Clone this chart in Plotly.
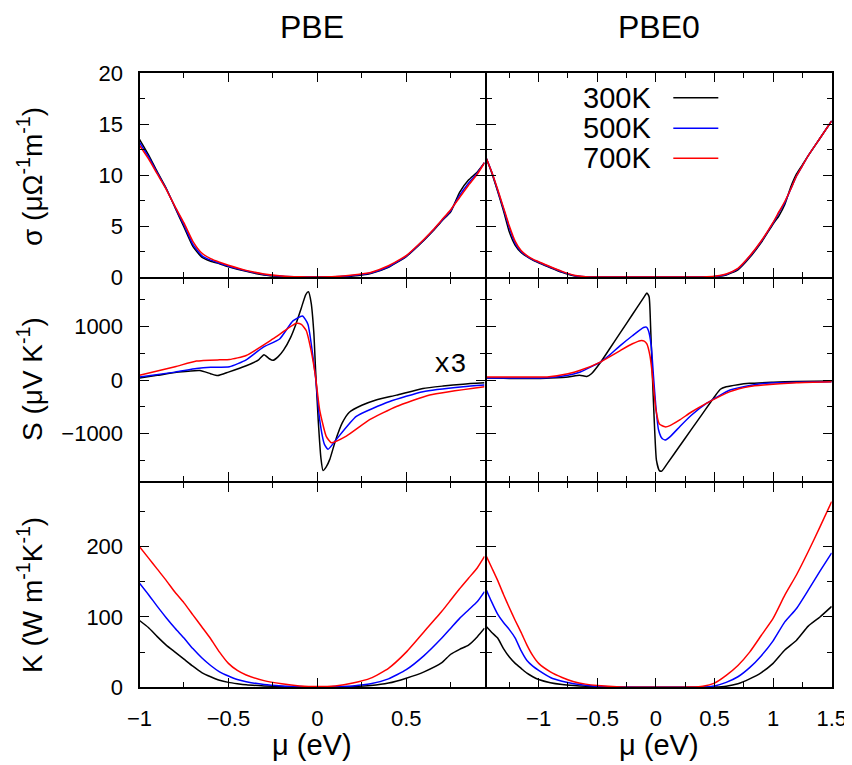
import plotly.graph_objects as go

# ---------------- data ----------------
temps = ["300K", "500K", "700K"]
colors = ["#000000", "#0000ff", "#ff0000"]

# sigma, PBE
x_sig_pbe = [-1.0, -0.95, -0.9, -0.85, -0.8, -0.75, -0.7, -0.65, -0.6, -0.55, -0.5, -0.4, -0.3, -0.2, -0.1,
             0.0, 0.1, 0.2, 0.3, 0.4, 0.5, 0.6, 0.65, 0.7, 0.75, 0.8, 0.85, 0.9, 0.94]
sig_pbe_300 = [13.5, 12.0, 10.3, 8.7, 6.8, 4.9, 3.0, 1.95, 1.55, 1.3, 1.0, 0.55, 0.2, 0.05, 0.0,
               0.0, 0.0, 0.1, 0.35, 0.95, 2.0, 3.6, 4.5, 5.5, 6.4, 8.3, 9.5, 10.3, 11.2]
sig_pbe_500 = [13.2, 11.8, 10.2, 8.65, 6.85, 5.1, 3.2, 2.1, 1.65, 1.35, 1.05, 0.6, 0.25, 0.07, 0.01,
               0.0, 0.02, 0.15, 0.4, 1.0, 2.05, 3.65, 4.55, 5.55, 6.5, 8.0, 9.2, 10.2, 11.2]
sig_pbe_700 = [12.9, 11.6, 10.1, 8.6, 6.9, 5.3, 3.5, 2.35, 1.8, 1.45, 1.15, 0.65, 0.3, 0.1, 0.02,
               0.0, 0.04, 0.2, 0.45, 1.1, 2.1, 3.7, 4.6, 5.6, 6.6, 7.8, 9.0, 10.1, 11.2]

# sigma, PBE0
x_sig_pbe0 = [-1.445, -1.4, -1.35, -1.3, -1.25, -1.2, -1.15, -1.1, -1.05, -1.0, -0.9, -0.8, -0.7, -0.6, -0.5,
              0.0, 0.4, 0.5, 0.6, 0.7, 0.8, 0.9, 1.0, 1.05, 1.1, 1.15, 1.2, 1.25, 1.3, 1.4, 1.5]
sig_pbe0_300 = [11.6, 10.2, 8.4, 6.5, 4.4, 3.1, 2.4, 2.0, 1.65, 1.4, 0.9, 0.45, 0.12, 0.01, 0.0,
                0.0, 0.0, 0.03, 0.2, 0.7, 1.9, 3.4, 5.2, 6.0, 7.1, 8.8, 10.1, 11.0, 11.9, 13.6, 15.3]
sig_pbe0_500 = [11.6, 10.3, 8.5, 6.7, 4.8, 3.3, 2.5, 2.05, 1.7, 1.45, 0.95, 0.5, 0.15, 0.02, 0.0,
                0.0, 0.0, 0.05, 0.25, 0.8, 2.0, 3.5, 5.3, 6.3, 7.3, 8.6, 9.9, 10.9, 11.9, 13.6, 15.3]
sig_pbe0_700 = [11.6, 10.3, 8.6, 6.8, 5.0, 3.5, 2.6, 2.1, 1.75, 1.5, 1.0, 0.55, 0.18, 0.03, 0.0,
                0.0, 0.01, 0.07, 0.3, 0.85, 2.05, 3.55, 5.35, 6.4, 7.4, 8.6, 9.9, 10.9, 11.9, 13.6, 15.3]

# Seebeck, PBE
x_s_pbe_300 = [-1.0, -0.9, -0.78, -0.66, -0.6, -0.56, -0.5, -0.4, -0.33, -0.3, -0.27, -0.25, -0.22, -0.19,
               -0.15, -0.12, -0.09, -0.065, -0.05, -0.035, -0.02, -0.01, 0.005, 0.02, 0.032, 0.05, 0.07,
               0.1, 0.14, 0.18, 0.25, 0.33, 0.445, 0.594, 0.707, 0.82, 0.94]
s_pbe_300 = [40, 90, 150, 180, 120, 85, 150, 270, 380, 475, 400, 370, 440, 560,
             800, 1050, 1350, 1600, 1650, 1450, 900, 200, -750, -1450, -1690, -1620, -1480,
             -1150, -800, -600, -470, -370, -280, -155, -110, -75, -50]
x_s_pbe_500 = [-1.0, -0.8, -0.68, -0.6, -0.494, -0.4, -0.306, -0.212, -0.137, -0.084, -0.053, -0.025,
               -0.01, 0.013, 0.04, 0.06, 0.107, 0.219, 0.407, 0.594, 0.82, 0.94]
s_pbe_500 = [60, 150, 216, 240, 250, 380, 614, 769, 1107, 1199, 1046, 450,
             50, -738, -1200, -1292, -1107, -677, -400, -215, -123, -92]
x_s_pbe_700 = [-1.0, -0.8, -0.68, -0.55, -0.494, -0.4, -0.25, -0.118, -0.09, -0.062, -0.035, -0.01, 0.013,
               0.05, 0.079, 0.163, 0.294, 0.445, 0.632, 0.94]
s_pbe_700 = [92, 250, 357, 380, 385, 461, 769, 1062, 1040, 923, 550, 60, -554,
             -1050, -1168, -1046, -738, -492, -277, -123]

# Seebeck, PBE0
x_s_pbe0_300 = [-1.445, -1.3, -1.2, -1.0, -0.9, -0.75, -0.65, -0.59, -0.55, -0.47, -0.4, -0.3, -0.2, -0.1,
                -0.077, -0.058, -0.045, -0.03, -0.015, 0.005, 0.03, 0.05, 0.1, 0.2, 0.3, 0.4, 0.5, 0.55,
                0.6, 0.7, 0.8, 1.0, 1.2, 1.5]
s_pbe0_300 = [40, 35, 30, 30, 40, 60, 90, 70, 120, 340, 568, 897, 1226, 1555,
              1630, 1560, 1000, 100, -700, -1500, -1690, -1700, -1550, -1240, -930, -620, -310, -170,
              -125, -85, -60, -40, -25, -15]
x_s_pbe0_500 = [-1.445, -1.2, -0.928, -0.75, -0.645, -0.474, -0.4, -0.304, -0.2, -0.105, -0.08, -0.063,
                -0.04, -0.02, 0.0, 0.022, 0.05, 0.079, 0.12, 0.207, 0.3, 0.434, 0.633, 0.8, 0.917, 1.2, 1.5]
s_pbe0_500 = [40, 40, 43, 90, 153, 338, 460, 646, 830, 984, 990, 923,
              650, 61, -500, -922, -1080, -1120, -1060, -861, -660, -430, -185, -100, -61, -40, -31]
x_s_pbe0_700 = [-1.445, -1.2, -0.928, -0.75, -0.645, -0.474, -0.4, -0.304, -0.2, -0.134, -0.1, -0.077,
                -0.05, -0.034, 0.0, 0.03, 0.079, 0.12, 0.207, 0.3, 0.434, 0.633, 0.8, 0.917, 1.2, 1.5]
s_pbe0_700 = [61, 61, 61, 120, 184, 338, 430, 553, 680, 738, 730, 677,
              450, 184, -550, -820, -873, -850, -738, -600, -430, -215, -120, -92, -50, -31]

# thermal conductivity, PBE
x_k_pbe = [-1.0, -0.95, -0.9, -0.85, -0.8, -0.75, -0.7, -0.65, -0.6, -0.55, -0.5, -0.45, -0.4, -0.3, -0.2,
           -0.1, 0.0, 0.1, 0.2, 0.3, 0.4, 0.5, 0.6, 0.7, 0.75, 0.8, 0.85, 0.9, 0.94]
k_pbe_300 = [95, 85, 72, 60, 50, 40, 30, 21, 15, 10, 7, 5, 3.5, 2, 1,
             0.5, 0, 0.3, 1, 2.5, 6, 13, 22, 35, 47, 54, 60, 72, 84]
k_pbe_500 = [148, 132, 115, 99, 84, 70, 55, 42, 31, 22, 16, 11, 8, 4, 2,
             1, 0.5, 1, 2, 5, 12, 25, 45, 70, 84, 98, 110, 122, 136]
k_pbe_700 = [200, 184, 168, 152, 135, 120, 103, 86, 69, 50, 34, 24, 17.5, 9.5, 5,
             2, 1, 2, 6, 13, 27, 50, 79, 108, 124, 140, 155, 170, 186]

# thermal conductivity, PBE0
x_k_pbe0 = [-1.445, -1.4, -1.35, -1.3, -1.25, -1.2, -1.15, -1.1, -1.05, -1.0, -0.9, -0.8, -0.7, -0.6, -0.5,
            -0.3, 0.0, 0.3, 0.4, 0.5, 0.6, 0.7, 0.8, 0.9, 1.0, 1.1, 1.2, 1.3, 1.4, 1.5]
k_pbe0_300 = [86, 78, 70, 55, 43, 34, 27, 20, 15, 11, 6.5, 4, 2.5, 1.5, 1,
              0.2, 0, 0, 0, 0.3, 1.5, 5, 12, 21, 34, 53, 67, 87, 100, 115]
k_pbe0_500 = [138, 121, 104, 92, 82, 70, 52, 38, 30, 24, 14, 8.5, 5, 3, 1.5,
              0.3, 0, 0, 0.3, 2, 7, 15, 28, 45, 66, 93, 112, 138, 165, 191]
k_pbe0_700 = [186, 170, 152, 132, 113, 95, 78, 60, 45, 34, 22, 14, 8, 4.5, 2.5,
              0.5, 0, 0.3, 1.5, 6, 17, 31, 50, 74, 98, 131, 160, 193, 228, 264]

# axis ranges and labels
x_range_pbe = [-1.0, 0.94]
x_range_pbe0 = [-1.445, 1.5]
sig_range = [0, 20]
s_range = [-1890, 1890]
k_range = [0, 290]
col_titles = ["PBE", "PBE0"]
x_title = "μ (eV)"
y_titles = ["σ (μΩ<sup>-1</sup>m<sup>-1</sup>)", "S (μV K<sup>-1</sup>)", "K (W m<sup>-1</sup>K<sup>-1</sup>)"]
scale_note = "x3"

# ---------------- figure ----------------
PAGE_OFF = 8            # default body margin of the page
W, H = 852 - PAGE_OFF, 765 - PAGE_OFF
FONT = "Liberation Sans, Arial, sans-serif"
LW = 2                  # frame line width

panels = [
    (1, [x_sig_pbe] * 3, [sig_pbe_300, sig_pbe_500, sig_pbe_700]),
    (2, [x_sig_pbe0] * 3, [sig_pbe0_300, sig_pbe0_500, sig_pbe0_700]),
    (3, [x_s_pbe_300, x_s_pbe_500, x_s_pbe_700], [s_pbe_300, s_pbe_500, s_pbe_700]),
    (4, [x_s_pbe0_300, x_s_pbe0_500, x_s_pbe0_700], [s_pbe0_300, s_pbe0_500, s_pbe0_700]),
    (5, [x_k_pbe] * 3, [k_pbe_300, k_pbe_500, k_pbe_700]),
    (6, [x_k_pbe0] * 3, [k_pbe0_300, k_pbe0_500, k_pbe0_700]),
]

fig = go.Figure()
for idx, xs, ys in panels:
    suffix = "" if idx == 1 else str(idx)
    for t, c, xv, yv in zip(temps, colors, xs, ys):
        fig.add_trace(go.Scatter(
            x=xv, y=yv, mode="lines", name=t, showlegend=False,
            line=dict(color=c, width=1.5, shape="spline", smoothing=0.5),
            xaxis="x" + suffix, yaxis="y" + suffix,
        ))

# panel geometry (page pixels); shared frame lines drawn once by offsetting by the line width
x_edges = [139.5, 485.5, 831.7]
y_edges = [73, 278, 482.3, 687.3]


def px2paper_x(p):
    return (p - PAGE_OFF) / W


def px2paper_y(p):
    return 1 - (p - PAGE_OFF) / H


half = LW / 2
col_dom = [[px2paper_x(x_edges[0]), px2paper_x(x_edges[1] - half)],
           [px2paper_x(x_edges[1] + half), px2paper_x(x_edges[2])]]
row_dom = [[px2paper_y(y_edges[1] - half), px2paper_y(y_edges[0])],
           [px2paper_y(y_edges[2] - half), px2paper_y(y_edges[1] + half)],
           [px2paper_y(y_edges[3]), px2paper_y(y_edges[2] + half)]]

y_specs = [(sig_range, 5, 2.5), (s_range, 1000, 500), (k_range, 100, 50)]
x_specs = [x_range_pbe, x_range_pbe0]


def base_axis():
    return dict(showline=True, linecolor="black", linewidth=LW, mirror="ticks",
                ticks="inside", ticklen=9, tickwidth=1, tickcolor="black",
                showgrid=False, zeroline=False, automargin=False,
                tickfont=dict(family=FONT, size=22, color="black"))


layout = dict(width=W, height=H, margin=dict(l=0, r=0, t=0, b=0, autoexpand=False),
              plot_bgcolor="white", paper_bgcolor="white", showlegend=False,
              font=dict(family=FONT, color="black"))

for r in range(3):
    for c in range(2):
        idx = r * 2 + c + 1
        suffix = "" if idx == 1 else str(idx)
        xa = base_axis()
        xa.update(domain=col_dom[c], range=x_specs[c], tickmode="linear", tick0=0, dtick=0.5,
                  minor=dict(ticks="inside", ticklen=5, tickwidth=1, tickcolor="black", dtick=0.25, tick0=0),
                  anchor="y" + suffix, showticklabels=(r == 2), ticklabelstandoff=10)
        ya = base_axis()
        yr, ydt, ymin = y_specs[r]
        ya.update(domain=row_dom[r], range=yr, tickmode="linear", tick0=0, dtick=ydt,
                  minor=dict(ticks="inside", ticklen=5, tickwidth=1, tickcolor="black", dtick=ymin, tick0=0),
                  anchor="x" + suffix, showticklabels=(c == 0), ticklabelstandoff=10)
        layout["xaxis" + suffix] = xa
        layout["yaxis" + suffix] = ya

fig.update_layout(**layout)

annotations = []
col_centers = [312, 658.5]
for ct, cx in zip(col_titles, col_centers):
    annotations.append(dict(text=ct, x=px2paper_x(cx), y=px2paper_y(8.5), xref="paper", yref="paper",
                            showarrow=False, font=dict(family=FONT, size=32, color="black"),
                            xanchor="center", yanchor="top", borderpad=0))
    annotations.append(dict(text=x_title, x=px2paper_x(cx), y=px2paper_y(745), xref="paper", yref="paper",
                            showarrow=False, font=dict(family=FONT, size=29, color="black"),
                            xanchor="center", yanchor="middle"))
for yt, cy in zip(y_titles, [177, 379, 595]):
    annotations.append(dict(text=yt, x=px2paper_x(30), y=px2paper_y(cy), xref="paper", yref="paper",
                            showarrow=False, textangle=-90, font=dict(family=FONT, size=28, color="black"),
                            xanchor="center", yanchor="middle"))
annotations.append(dict(text=scale_note, x=px2paper_x(449.5), y=px2paper_y(365), xref="paper", yref="paper",
                        showarrow=False, font=dict(family="Liberation Mono, Courier New, monospace", size=27,
                                                   color="black"),
                        xanchor="center", yanchor="middle"))

# legend (text left, line sample right)
shapes = []
leg_rows = [97.7, 128.3, 158.3]
for t, c, ly in zip(temps, colors, leg_rows):
    annotations.append(dict(text=t, x=px2paper_x(653), y=px2paper_y(ly), xref="paper", yref="paper",
                            showarrow=False, font=dict(family=FONT, size=29, color="black"),
                            xanchor="right", yanchor="middle"))
    shapes.append(dict(type="line", xref="paper", yref="paper",
                       x0=px2paper_x(673.3), x1=px2paper_x(718.3), y0=px2paper_y(ly), y1=px2paper_y(ly),
                       line=dict(color=c, width=1.5)))

fig.update_layout(annotations=annotations, shapes=shapes)
fig.write_html("out.html")
